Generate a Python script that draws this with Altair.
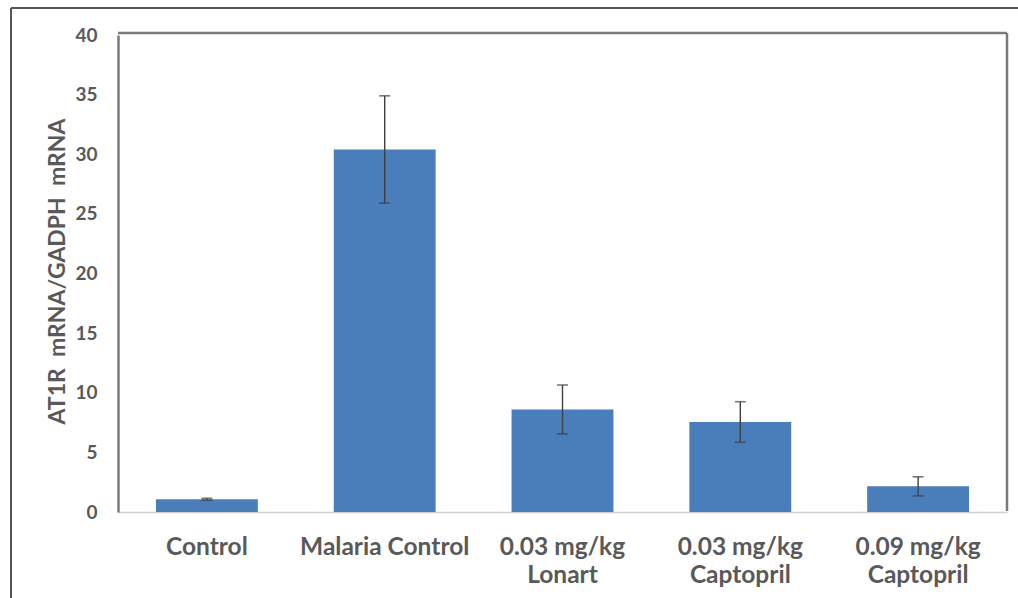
import altair as alt
import pandas as pd

groups = ["Control", "Malaria Control", "0.03 mg/kg|Lonart", "0.03 mg/kg|Captopril", "0.09 mg/kg|Captopril"]
means = [1.07, 30.4, 8.6, 7.55, 2.15]
errs = [0.08, 4.5, 2.05, 1.7, 0.8]
y_title = "AT1R\u00a0\u00a0mRNA/GADPH\u00a0\u00a0mRNA"
y_ticks = [0, 5, 10, 15, 20, 25, 30, 35, 40]

df = pd.DataFrame({"group": groups, "mean": means, "err": errs})
df["lo"] = df["mean"] - df["err"]
df["hi"] = df["mean"] + df["err"]

W, H = 889, 477
FONT = "Lato"
TXT = "#595959"
BOX = "#7a7a7a"

x = alt.X("group:N", sort=groups, title=None,
          scale=alt.Scale(paddingInner=0.427, paddingOuter=0.2135),
          axis=alt.Axis(labelExpr="split(datum.label, '|')", labelAngle=0, ticks=False,
                        domainColor="#d0d0d0", domainWidth=1.5, labelPadding=23,
                        labelFont=FONT, labelFontSize=24.5, labelFontWeight="bold",
                        labelColor=TXT, labelLineHeight=28))
yscale = alt.Scale(domain=[0, 40], nice=False)

base = alt.Chart(df)
bars = base.mark_bar(color="#4a7ebb").encode(
    x=x,
    y=alt.Y("mean:Q", scale=yscale, title=y_title,
            axis=alt.Axis(values=y_ticks, ticks=False, grid=False,
                          domainColor=BOX, domainWidth=2.5, labelPadding=21,
                          labelFont=FONT, labelFontSize=19, labelFontWeight="bold",
                          labelColor=TXT, titleFont=FONT, titleFontSize=23,
                          titleFontWeight="bold", titleColor=TXT, titleAngle=-90,
                          titleX=-61, titleY=236, titleAlign="center",
                          titleBaseline="middle")),
)
rule = base.mark_rule(color="#404040", strokeWidth=1.4).encode(
    x=alt.X("group:N", sort=groups), y="lo:Q", y2="hi:Q")
tick_hi = base.mark_tick(color="#404040", thickness=1.6, size=11, orient="horizontal").encode(
    x=alt.X("group:N", sort=groups), y="hi:Q")
tick_lo = base.mark_tick(color="#404040", thickness=1.6, size=11, orient="horizontal").encode(
    x=alt.X("group:N", sort=groups), y="lo:Q")

one = alt.Chart(alt.Data(values=[{}]))
top_line = one.mark_rule(color=BOX, strokeWidth=2.5).encode(
    x=alt.value(0), x2=alt.value(W), y=alt.value(-2))
right_line = one.mark_rule(color=BOX, strokeWidth=2.5).encode(
    x=alt.value(W), y=alt.value(-2), y2=alt.value(H - 1))
outer_top = one.mark_rule(color="#555555", strokeWidth=2).encode(
    x=alt.value(-107), x2=alt.value(905), y=alt.value(-27))
outer_left = one.mark_rule(color="#555555", strokeWidth=2).encode(
    x=alt.value(-107), y=alt.value(-27), y2=alt.value(570))

chart = alt.layer(bars, rule, tick_hi, tick_lo, top_line, right_line, outer_top, outer_left).properties(
    width=W, height=H,
    autosize=alt.AutoSizeParams(type="none"),
    padding={"left": 118, "top": 35, "right": 11, "bottom": 86},
    background="white",
).configure_view(stroke=None)

chart.save("out.html", embed_options={"renderer": "svg", "actions": False})
